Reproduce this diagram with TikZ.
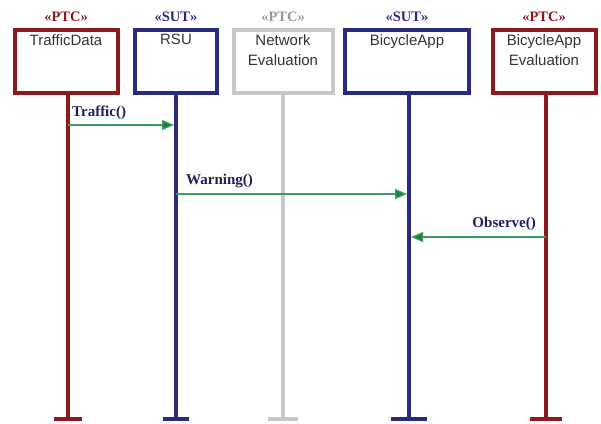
\documentclass[tikz,border=0pt]{standalone}
\usepackage{fontspec}
\setmainfont{Liberation Sans}
\newfontfamily\serifbold{Liberation Serif}
\usetikzlibrary{arrows.meta}
\definecolor{ptcred}{RGB}{140,25,30}
\definecolor{sutblue}{RGB}{42,42,125}
\definecolor{netgray}{RGB}{200,200,200}
\definecolor{stergray}{RGB}{150,150,160}
\definecolor{msggreen}{RGB}{60,155,95}
\definecolor{tipgreen}{RGB}{20,130,60}
\definecolor{msgtext}{RGB}{30,30,90}
\tikzset{
  objbox/.style={draw=#1, line width=4pt, minimum width=100pt, minimum height=63pt, anchor=north, inner sep=0pt},
  objtext/.style={anchor=north, align=center, font=\fontsize{15}{20}\selectfont, text=black!80, inner sep=0pt},
  stereo/.style={font=\serifbold\bfseries\fontsize{14.5}{15}\selectfont, text=#1},
  lifeline/.style={draw=#1, line width=4pt},
  tbar/.style={draw=#1, line width=4pt},
  msg/.style={draw=msggreen, line width=1.4pt, -{Triangle[length=12pt,width=10pt,fill=tipgreen]}},
  msglabel/.style={font=\serifbold\bfseries\fontsize{15}{16}\selectfont, text=msgtext}
}
\begin{document}
\begin{tikzpicture}[x=1pt,y=-1pt]
\useasboundingbox (0,0) rectangle (601,423);
% boxes
\node[objbox=ptcred, minimum width=103pt] (td) at (66,28) {};
\node[objbox=sutblue, minimum width=82pt] (rsu) at (176,28) {};
\node[objbox=netgray, minimum width=99pt] (net) at (283,28) {};
\node[objbox=sutblue, minimum width=124pt] (app) at (407,28) {};
\node[objbox=ptcred, minimum width=103pt] (eval) at (544,28) {};
% texts
\node[objtext] (tdt) at (66,34) {TrafficData};
\node[objtext] (rsut) at (176,34) {RSU};
\node[objtext] (nett) at (283,34) {Network\\Evaluation};
\node[objtext] (appt) at (407,34) {BicycleApp};
\node[objtext] (evalt) at (544,34) {BicycleApp\\Evaluation};
% stereotypes
\node[stereo=ptcred] (s1) at (66,17) {«PTC»};
\node[stereo=sutblue] (s2) at (176,17) {«SUT»};
\node[stereo=stergray] (s3) at (283,17) {«PTC»};
\node[stereo=sutblue] (s4) at (407,17) {«SUT»};
\node[stereo=ptcred] (s5) at (544,17) {«PTC»};
% lifeline ends
\coordinate (tdend) at (68,419);
\coordinate (rsuend) at (176,419);
\coordinate (netend) at (283,419);
\coordinate (append) at (409,419);
\coordinate (evalend) at (546,419);
\draw[lifeline=ptcred] (td.south -| tdend) -- (tdend);
\draw[lifeline=sutblue] (rsu.south -| rsuend) -- (rsuend);
\draw[lifeline=netgray] (net.south -| netend) -- (netend);
\draw[lifeline=sutblue] (app.south -| append) -- (append);
\draw[lifeline=ptcred] (eval.south -| evalend) -- (evalend);
\draw[tbar=ptcred] ([xshift=-14pt]tdend) -- ([xshift=14pt]tdend);
\draw[tbar=sutblue] ([xshift=-13pt]rsuend) -- ([xshift=13pt]rsuend);
\draw[tbar=netgray] ([xshift=-15pt]netend) -- ([xshift=15pt]netend);
\draw[tbar=sutblue] ([xshift=-18pt]append) -- ([xshift=18pt]append);
\draw[tbar=ptcred] ([xshift=-16pt]evalend) -- ([xshift=16pt]evalend);
% message points
\coordinate (m1a) at (68,125);
\coordinate (m1b) at (174,125);
\coordinate (m2a) at (176,194);
\coordinate (m2b) at (407,194);
\coordinate (m3a) at (546,237);
\coordinate (m3b) at (411,237);
\draw[msg] (m1a) -- (m1b);
\draw[msg] (m2a) -- (m2b);
\draw[msg] (m3a) -- (m3b);
\node[msglabel, anchor=south west, inner sep=1pt] (l1) at (71,121) {Traffic()};
\node[msglabel, anchor=south west, inner sep=1pt] (l2) at (185,189) {Warning()};
\node[msglabel, anchor=south east, inner sep=1pt] (l3) at (537,232) {Observe()};
\end{tikzpicture}
\end{document}
